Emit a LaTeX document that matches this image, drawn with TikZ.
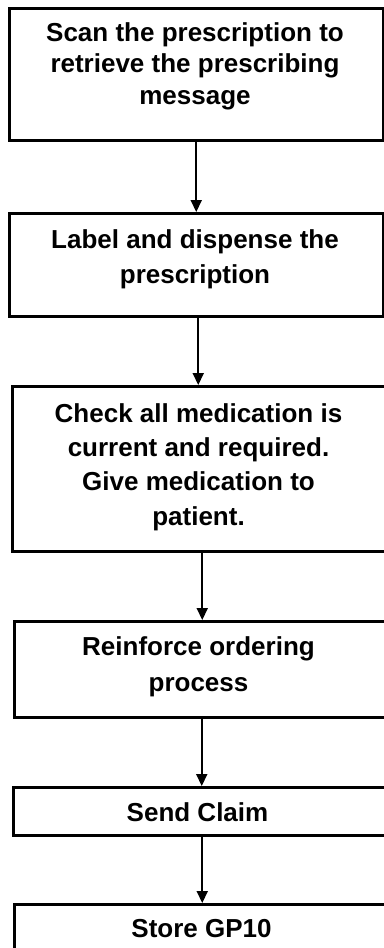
\documentclass[tikz,border=0pt]{standalone}
\usepackage{fontspec}
\setmainfont{Liberation Sans}
\usetikzlibrary{arrows.meta}
\begin{document}
\begin{tikzpicture}[x=1pt,y=-1pt,
  stepbox/.style={draw=black, line width=2.5pt, rectangle, inner sep=0pt, anchor=north west},
  steptext/.style={font=\bfseries\fontsize{26}{#1}\selectfont, align=center, inner sep=0pt, anchor=base},
  arr/.style={draw=black, line width=2pt, -{Triangle[width=11pt,length=12pt]}}]
\useasboundingbox (0,0) rectangle (383,948);
\path[fill=white] (0,0) rectangle (383,948);

% boxes
\node[stepbox, minimum width=374pt, minimum height=132pt] (b1) at (8,7) {};
\node[stepbox, minimum width=374pt, minimum height=103pt] (b2) at (8,212) {};
\node[stepbox, minimum width=376pt, minimum height=165pt] (b3) at (11,385) {};
\node[stepbox, minimum width=373pt, minimum height=96pt] (b4) at (13,620) {};
\node[stepbox, minimum width=373pt, minimum height=48pt] (b5) at (12,786) {};
\node[stepbox, minimum width=377pt, minimum height=60pt] (b6) at (13,903) {};

% texts (anchor base = baseline of the last line)
\node[steptext=31.5] (t1) at (195,104) {Scan the prescription to\\retrieve the prescribing\\message};
\node[steptext=34.5] (t2) at (195,283) {Label and dispense the\\prescription};
\node[steptext=34.3] (t3) at (198.5,525) {Check all medication is\\current and required.\\Give medication to\\patient.};
\node[steptext=36] (t4) at (198.5,691) {Reinforce ordering\\process};
\node[steptext=30] (t5) at (197.5,821) {Send Claim};
\node[steptext=30] (t6) at (201.5,937) {Store GP10};

% connectors
\draw[arr] (b1.south) -- (b2.north);
\draw[arr] ([xshift=2pt]b2.south) -- ([xshift=2pt]b2.south |- b3.north);
\draw[arr] ([xshift=2pt]b3.south) -- ([xshift=2pt]b3.south |- b4.north);
\draw[arr] ([xshift=1pt]b4.south) -- ([xshift=1pt]b4.south |- b5.north);
\draw[arr] ([xshift=2.5pt]b5.south) -- ([xshift=2.5pt]b5.south |- b6.north);
\end{tikzpicture}
\end{document}
